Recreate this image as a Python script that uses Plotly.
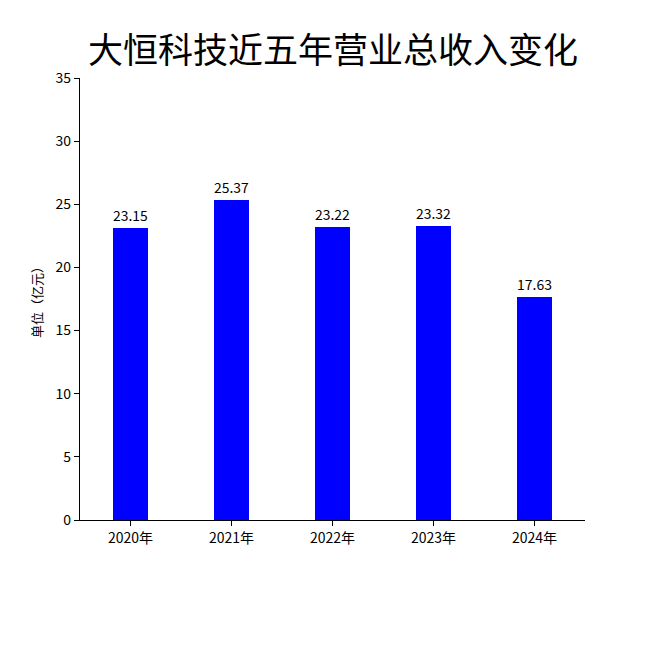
import plotly.graph_objects as go

years = ["2020年", "2021年", "2022年", "2023年", "2024年"]
revenue = [23.15, 25.37, 23.22, 23.32, 17.63]

font = "Noto Sans CJK SC"

fig = go.Figure(go.Bar(
    x=years, y=revenue, width=0.35,
    marker=dict(color="#0000FF", line=dict(width=0)),
    text=[f"{v:.2f}" for v in revenue], textposition="outside",
    textfont=dict(size=14, color="black", family=font),
    cliponaxis=False,
))

fig.update_layout(
    width=650, height=650,
    plot_bgcolor="white", paper_bgcolor="white",
    margin=dict(l=72, r=73, t=70, b=138),
    title=dict(text="大恒科技近五年营业总收入变化", x=0.5, xanchor="center",
               y=0.935, yanchor="middle",
               font=dict(size=35, color="black", family=font)),
    font=dict(family=font, size=14, color="black"),
    showlegend=False,
    bargap=0,
)
fig.update_xaxes(showline=True, linecolor="black", linewidth=1.2, ticks="outside",
                 ticklen=5, tickcolor="black", showgrid=False)
fig.update_yaxes(range=[0, 35], dtick=5, showline=True, linecolor="black", linewidth=1.2,
                 ticks="outside", ticklen=5, tickcolor="black", showgrid=False, zeroline=False,
                 title=dict(text="单位（亿元）", font=dict(size=13), standoff=10))

fig.write_html("out.html")
